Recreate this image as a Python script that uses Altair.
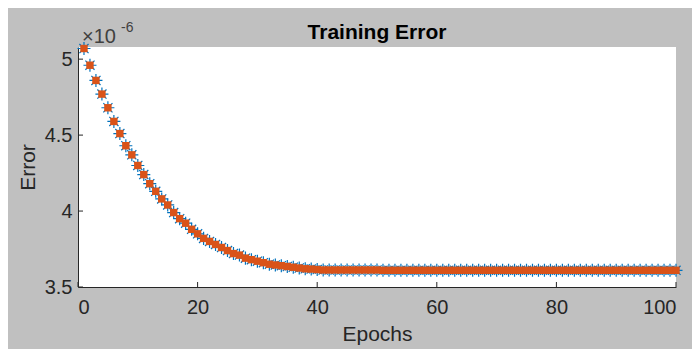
import altair as alt
import pandas as pd

# ---- data (Error values in units of 1e-6) ----
epochs = list(range(1, 101))
error_head = [5.07, 4.96, 4.86, 4.77, 4.68, 4.59, 4.51, 4.43, 4.37, 4.30,
              4.24, 4.18, 4.13, 4.08, 4.04, 3.99, 3.95, 3.92, 3.88, 3.85,
              3.82, 3.80, 3.78, 3.76, 3.74, 3.72, 3.71, 3.69, 3.68, 3.67,
              3.66, 3.65, 3.645, 3.64, 3.635, 3.63, 3.625, 3.62, 3.618, 3.615]
error_tail = [3.612] * 10 + [3.61] * 50
error = error_head + error_tail
x_ticks = [0, 20, 40, 60, 80, 100]
y_ticks = [3.5, 4, 4.5, 5]

df = pd.DataFrame({"Epochs": epochs, "Error": error})
xt = pd.DataFrame({"Epochs": x_ticks})
yt = pd.DataFrame({"Error": y_ticks})
one = pd.DataFrame({"a": [0]})

W, H = 598, 240
AX = "#262626"
FONT = "Liberation Sans"

xs = alt.Scale(domain=[0, 100], nice=False)
ys = alt.Scale(domain=[3.5, 5.08], nice=False, zero=False)

x_axis = alt.Axis(values=x_ticks, tickSize=0, grid=False, domainColor=AX,
                  labelColor=AX, labelFontSize=20, labelPadding=10, labelFont=FONT,
                  title="Epochs", titleFont=FONT, titleFontSize=21,
                  titleFontWeight="normal", titleColor=AX, titlePadding=6)
y_axis = alt.Axis(values=y_ticks, tickSize=0, grid=False, domainColor=AX,
                  format="~g",
                  labelColor=AX, labelFontSize=20, labelPadding=6, labelFont=FONT,
                  title="Error", titleFont=FONT, titleFontSize=21,
                  titleFontWeight="normal", titleColor=AX, titlePadding=6)

X = alt.X("Epochs:Q", scale=xs, axis=x_axis)
Y = alt.Y("Error:Q", scale=ys, axis=y_axis)

base = alt.Chart(df)
star = base.mark_point(
    shape="M-1,0L1,0M0,-1L0,1M-0.7,-0.7L0.7,0.7M-0.7,0.7L0.7,-0.7",
    filled=False, stroke="#0072BD", strokeWidth=1.2, size=170, opacity=1,
    clip=False,
).encode(x=X, y=Y)
sq = base.mark_square(color="#D95319", size=55, opacity=1, clip=False).encode(x=X, y=Y)

xtick = alt.Chart(xt).mark_rule(color=AX, strokeWidth=1).encode(
    x=X, y=alt.value(H), y2=alt.value(H - 5),
)
ytick = alt.Chart(yt).mark_rule(color=AX, strokeWidth=1).encode(
    y=Y, x=alt.value(0), x2=alt.value(5),
)

title = alt.Chart(one).mark_text(
    text="Training Error", font=FONT, fontSize=21, fontWeight="bold",
    color="#000000", align="center", baseline="alphabetic",
).encode(x=alt.value(W / 2), y=alt.value(-8))

mult = alt.Chart(one).mark_text(
    text="×10", font=FONT, fontSize=20, color="#404040",
    align="left", baseline="alphabetic",
).encode(x=alt.value(4), y=alt.value(-4))
mult_exp = alt.Chart(one).mark_text(
    text="-6", font=FONT, fontSize=14, color="#404040",
    align="left", baseline="alphabetic",
).encode(x=alt.value(43), y=alt.value(-15))

chart = alt.layer(star, sq, xtick, ytick, title, mult, mult_exp).properties(
    width=W, height=H,
    background="#c0c0c0",
    padding={"left": 70, "top": 39, "right": 16, "bottom": 62},
    autosize=alt.AutoSizeParams(type="none"),
).configure_view(fill="white", stroke=None)

chart.save("out.html", embed_options={"renderer": "svg", "actions": False})
